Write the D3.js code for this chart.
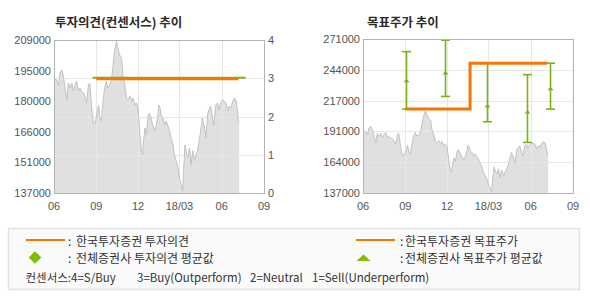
<!DOCTYPE html>
<html><head><meta charset="utf-8">
<script src="https://cdn.jsdelivr.net/npm/d3@7"></script>
<style>html,body{margin:0;padding:0;background:#fff;} svg{display:block}</style>
</head><body><svg id="c" width="590" height="300"></svg>
<script>
// ---------- data ----------
const priceDates = ["2017-06-01","2017-06-07","2017-06-11","2017-06-14","2017-06-18","2017-06-21","2017-06-25","2017-06-29",
"2017-07-02","2017-07-06","2017-07-10","2017-07-13","2017-07-17","2017-07-20","2017-07-24","2017-07-27","2017-07-31",
"2017-08-04","2017-08-07","2017-08-11","2017-08-15","2017-08-18","2017-08-22","2017-08-26","2017-08-29",
"2017-09-02","2017-09-06","2017-09-09","2017-09-12","2017-09-15","2017-09-19","2017-09-23","2017-09-26","2017-09-30",
"2017-10-04","2017-10-07","2017-10-11","2017-10-15","2017-10-18","2017-10-22","2017-10-26","2017-10-29",
"2017-11-02","2017-11-06","2017-11-09","2017-11-13","2017-11-17","2017-11-20","2017-11-24","2017-11-27",
"2017-12-01","2017-12-05","2017-12-08","2017-12-11","2017-12-12","2017-12-16","2017-12-19","2017-12-23","2017-12-26","2017-12-29",
"2018-01-02","2018-01-06","2018-01-10","2018-01-13","2018-01-15","2018-01-18","2018-01-20","2018-01-24","2018-01-28","2018-01-31",
"2018-02-04","2018-02-07","2018-02-11","2018-02-15","2018-02-18","2018-02-22","2018-02-26",
"2018-03-01","2018-03-05","2018-03-08","2018-03-10","2018-03-13","2018-03-17","2018-03-19","2018-03-23","2018-03-26","2018-03-30",
"2018-04-03","2018-04-06","2018-04-09","2018-04-13","2018-04-17","2018-04-20","2018-04-24","2018-04-28",
"2018-05-01","2018-05-04","2018-05-08","2018-05-12","2018-05-15","2018-05-19","2018-05-23","2018-05-26","2018-05-30",
"2018-06-03","2018-06-06","2018-06-10","2018-06-14","2018-06-17","2018-06-21","2018-06-24","2018-06-28",
"2018-07-02","2018-07-05","2018-07-07","2018-07-09"];
const priceValues = [191100,190200,187800,193500,194900,192500,186400,180800,
188800,186400,188800,185000,187800,189700,185000,186400,185000,
184100,182600,179400,187800,188800,177000,169900,169500,
173700,178400,172300,170900,178400,186400,189700,186400,187800,
189700,195800,203800,208500,205200,201900,200500,192500,
187800,181700,180800,182600,180300,181700,178400,179400,
177000,164300,156800,154900,159600,167600,164300,173700,174600,172300,
169000,166200,169000,173700,178400,177000,173700,172300,169000,170900,
168500,166600,162900,159600,154900,152100,148800,
144100,140800,137900,147400,159600,154900,153500,158200,150200,156800,
152100,154900,156800,161500,167600,172300,168500,162900,
173700,176100,177900,172300,169000,178400,179400,176100,179400,
180800,180300,179400,175600,177900,177000,179400,181700,
180800,176100,170900,169900];

const ratingDates = ["2017-09-01","2018-07-07"];
const ratingValues = [3,3];
const consRatingDates = ["2017-08-24","2018-07-23"];
const consRatingValues = [3,3];

const targetDates = ["2017-09-01","2018-01-20","2018-07-07"];
const targetValues = [210000,250000,250000];

const consTargetDates = ["2017-09-03","2017-11-27","2018-02-26","2018-05-24","2018-07-13"];
const consTargetMax = [260000,270000,250000,240000,250000];
const consTargetAvg = [234600,241400,212600,207400,227700];
const consTargetMin = [210000,221000,199000,181000,210000];

const xDomain = ["2017-06-01","2018-09-01"];
const xTickDates = ["2017-06-01","2017-09-01","2017-12-01","2018-03-01","2018-06-01","2018-09-01"];
const xTickLabels = ["06","09","12","18/03","06","09"];
const leftPriceLabels = ["137000","151000","166000","180000","195000","209000"];
const rightPriceLabels = ["137000","164000","191000","217000","244000","271000"];
const ratingTicks = [0,1,2,3,4];

const titles = ["투자의견(컨센서스) 추이","목표주가 추이"];
const legendLabels = ["한국투자증권 투자의견","전체증권사 투자의견 평균값","한국투자증권 목표주가","전체증권사 목표주가 평균값"];
const consensusNote = ["컨센서스:4=S/Buy","3=Buy(Outperform)","2=Neutral","1=Sell(Underperform)"];

// ---------- style ----------
const ORANGE = "#f97400", GREEN = "#78b414", GRID = "#e7e7e7", BORDER = "#b3b3b3";
const AREA = "#e0e0e0", PLINE = "#c2c2c2", TXT = "#555";
const KFONT = "'Noto Sans CJK KR', 'Noto Sans', sans-serif";
const NFONT = "'Liberation Sans', Arial, sans-serif";

const parse = d3.utcParse("%Y-%m-%d");
const price = priceDates.map((d,i)=>({date:parse(d), v:priceValues[i]}));
const svg = d3.select("#c");

function panel(opt){
  const {x0,x1,y0,y1,labels} = opt;
  const x = d3.scaleUtc().domain(xDomain.map(parse)).range([x0,x1]);
  const lo = +labels[0], hi = +labels[labels.length-1];
  const y = d3.scaleLinear().domain([lo,hi]).range([y1,y0]);
  const g = svg.append("g");
  g.append("path").datum(price)
    .attr("fill",AREA)
    .attr("d", d3.area().x(d=>x(d.date)).y0(y1).y1(d=>y(d.v)));
  const gy = opt.gridY(y);
  g.selectAll(".gh").data(gy).join("line")
    .attr("x1",x0).attr("x2",x1).attr("y1",d=>Math.round(d)+0.5).attr("y2",d=>Math.round(d)+0.5)
    .attr("stroke",GRID).attr("stroke-width",1);
  g.selectAll(".gv").data(xTickDates.slice(1,-1).map(parse)).join("line")
    .attr("x1",d=>Math.round(x(d))+0.5).attr("x2",d=>Math.round(x(d))+0.5).attr("y1",y0).attr("y2",y1)
    .attr("stroke",GRID).attr("stroke-width",1);
  g.append("path").datum(price)
    .attr("fill","none").attr("stroke",PLINE).attr("stroke-width",1)
    .attr("d", d3.line().x(d=>x(d.date)).y(d=>y(d.v)));
  const n = labels.length;
  g.selectAll(".yl").data(labels).join("text")
    .attr("x",x0-3).attr("y",(d,i)=>y(lo+i*(hi-lo)/(n-1)))
    .attr("text-anchor","end").attr("dominant-baseline","central")
    .attr("font-family",NFONT).attr("font-size",11).attr("fill",TXT).text(d=>d);
  g.selectAll(".xl").data(xTickDates).join("text")
    .attr("x",d=>x(parse(d))).attr("y",y1+13)
    .attr("text-anchor","middle").attr("dominant-baseline","central")
    .attr("font-family",NFONT).attr("font-size",11).attr("fill",TXT)
    .text((d,i)=>xTickLabels[i]);
  g.append("text").attr("x",opt.titleX).attr("y",21).attr("dominant-baseline","central")
    .attr("font-family",KFONT).attr("font-weight","bold").attr("font-size",12.5).attr("fill","#2a2a2a")
    .text(opt.title);
  return {x,y,g};
}

// ---------- left panel ----------
const L = panel({x0:54,x1:264,y0:40,y1:193,labels:leftPriceLabels,title:titles[0],titleX:55,
  gridY:()=>{ const r=d3.scaleLinear().domain([0,4]).range([193,40]); return [1,2,3].map(r);} });
const yR = d3.scaleLinear().domain([0,4]).range([193,40]);
L.g.selectAll(".rl").data(ratingTicks).join("text")
  .attr("x",268).attr("y",d=>yR(d)).attr("dominant-baseline","central")
  .attr("font-family",NFONT).attr("font-size",11).attr("fill",TXT).text(d=>d);
L.g.append("path").datum(consRatingDates.map((d,i)=>({date:parse(d),v:consRatingValues[i]})))
  .attr("fill","none").attr("stroke",GREEN).attr("stroke-width",2)
  .attr("d", d3.line().x(d=>L.x(d.date)).y(d=>yR(d.v)-0.5));
L.g.append("path").datum(ratingDates.map((d,i)=>({date:parse(d),v:ratingValues[i]})))
  .attr("fill","none").attr("stroke",ORANGE).attr("stroke-width",3)
  .attr("d", d3.line().x(d=>L.x(d.date)).y(d=>yR(d.v)+0.5));
L.g.append("rect").attr("x",54.5).attr("y",40.5).attr("width",210).attr("height",153)
  .attr("fill","none").attr("stroke",BORDER);

// ---------- right panel ----------
const R = panel({x0:363,x1:573,y0:39,y1:193,labels:rightPriceLabels,title:titles[1],titleX:367,
  gridY:(y)=>{ const lo=+rightPriceLabels[0],hi=+rightPriceLabels[5]; return [1,2,3,4].map(i=>y(lo+i*(hi-lo)/5)); } });
const bars = consTargetDates.map((d,i)=>({date:parse(d),max:consTargetMax[i],avg:consTargetAvg[i],min:consTargetMin[i]}));
const bg = R.g.append("g").attr("stroke",GREEN).attr("stroke-width",1.6).attr("fill","none");
bars.forEach(b=>{
  const cx = Math.round(R.x(b.date))+0.5;
  bg.append("line").attr("x1",cx).attr("x2",cx).attr("y1",R.y(b.max)).attr("y2",R.y(b.min));
  bg.append("line").attr("x1",cx-4.5).attr("x2",cx+4.5).attr("y1",R.y(b.max)).attr("y2",R.y(b.max));
  bg.append("line").attr("x1",cx-4.5).attr("x2",cx+4.5).attr("y1",R.y(b.min)).attr("y2",R.y(b.min));
  R.g.append("path").attr("d","M-3,1.5L3,1.5L0,-2Z").attr("fill",GREEN)
    .attr("transform",`translate(${cx},${R.y(b.avg)})`);
});
R.g.append("path").datum(targetDates.map((d,i)=>({date:parse(d),v:targetValues[i]})))
  .attr("fill","none").attr("stroke",ORANGE).attr("stroke-width",3)
  .attr("d", d3.line().curve(d3.curveStepAfter).x(d=>R.x(d.date)).y(d=>R.y(d.v)));
R.g.append("rect").attr("x",363.5).attr("y",39.5).attr("width",210).attr("height",154)
  .attr("fill","none").attr("stroke",BORDER);

// ---------- legend ----------
const lg = svg.append("g");
lg.append("rect").attr("x",8.5).attr("y",228.5).attr("width",571).attr("height",61)
  .attr("fill","#fafafa").attr("stroke","#e2e2e2").attr("stroke-width",1.5);
const rows = [240,257.5];
const cols = [{colon:68,text:76},{colon:400,text:405}];
[[0,0],[0,1],[1,0],[1,1]].forEach(([c,r],k)=>{
  const col = cols[c], yy = rows[r];
  if(r===0){
    lg.append("line").attr("x1",c===0?26:356).attr("x2",c===0?65:395).attr("y1",yy).attr("y2",yy)
      .attr("stroke",ORANGE).attr("stroke-width",2);
  } else if(c===0){
    lg.append("path").attr("d",d3.symbol(d3.symbolSquare,80)())
      .attr("transform",`translate(35,${yy}) rotate(45)`).attr("fill","#7fbf00");
  } else {
    lg.append("path").attr("d","M-7,3L7,3L0,-3.5Z").attr("transform",`translate(363.5,${yy+0.5})`).attr("fill","#7fbf00");
  }
  lg.append("text").attr("x",col.colon).attr("y",yy).attr("dominant-baseline","central")
    .attr("font-family",KFONT).attr("font-size",12).attr("fill","#333").text(":");
  lg.append("text").attr("x",col.text).attr("y",yy).attr("dominant-baseline","central")
    .attr("font-family",KFONT).attr("font-size",12).attr("fill","#333").text(legendLabels[k]);
});
const noteX = [25.5,137,250,312];
lg.selectAll(".note").data(consensusNote).join("text")
  .attr("x",(d,i)=>noteX[i]).attr("y",276.5).attr("dominant-baseline","central")
  .attr("font-family",KFONT).attr("font-size",11.5).attr("fill","#333").text(d=>d);
</script></body></html>
